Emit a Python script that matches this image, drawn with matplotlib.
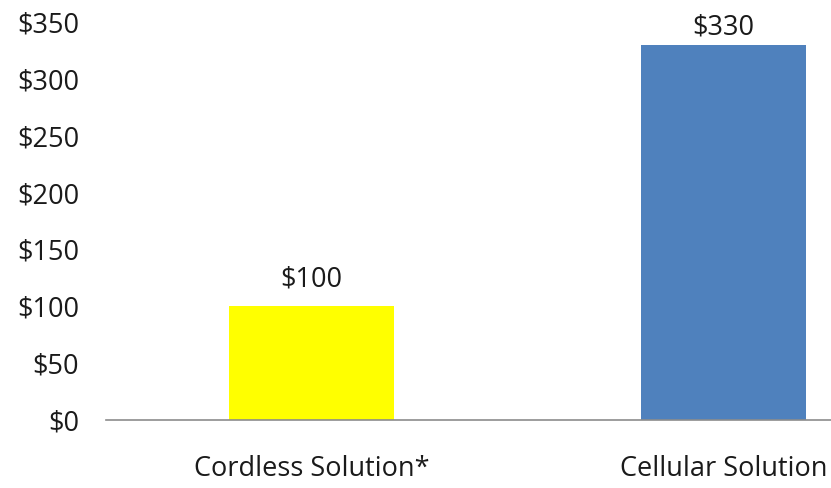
import matplotlib
matplotlib.use("Agg")
import matplotlib.pyplot as plt

categories = ["Cordless Solution*", "Cellular Solution"]
values = [100, 330]
colors = ["#FFFF00", "#4F81BD"]
yticks = [0, 50, 100, 150, 200, 250, 300, 350]

plt.rcParams['font.family'] = ['Open Sans', 'DejaVu Sans']
FS = 19.5

fig = plt.figure(figsize=(8.31, 4.88), dpi=100)
ax = fig.add_axes([105.5/831, (488-420)/488, 1 - 105.5/831, (420-22)/488])

x = list(range(len(categories)))
bars = ax.bar(x, values, width=0.4, color=colors, zorder=2)

ax.set_xlim(-0.5, 1.261)
ax.set_ylim(0, 350)
ax.set_yticks(yticks)
ax.set_yticklabels([f"${t}" for t in yticks], fontsize=FS, color="#1a1a1a")
ax.set_xticks(x)
ax.set_xticklabels(categories, fontsize=FS, color="#1a1a1a")
ax.tick_params(axis="y", length=0, pad=19)
ax.tick_params(axis="x", length=0, pad=25)
for s in ["top", "right", "left"]:
    ax.spines[s].set_visible(False)
ax.spines["bottom"].set_color("#8c8c8c")
ax.spines["bottom"].set_linewidth(1.2)

renderer = fig.canvas.get_renderer()
OFF = 9.5
for xi, v in zip(x, values):
    t = ax.annotate(f"${v}", (xi, v), xytext=(0, OFF), textcoords="offset points",
                    ha="center", va="bottom", fontsize=FS, color="#1a1a1a",
                    annotation_clip=False)
    bb = t.get_window_extent(renderer)
    limit = fig.bbox.height - 14
    if bb.y1 > limit:
        shift_pts = (bb.y1 - limit) * 72 / fig.dpi
        t.xyann = (0, OFF - shift_pts)

fig.savefig("out.png", dpi=100)
